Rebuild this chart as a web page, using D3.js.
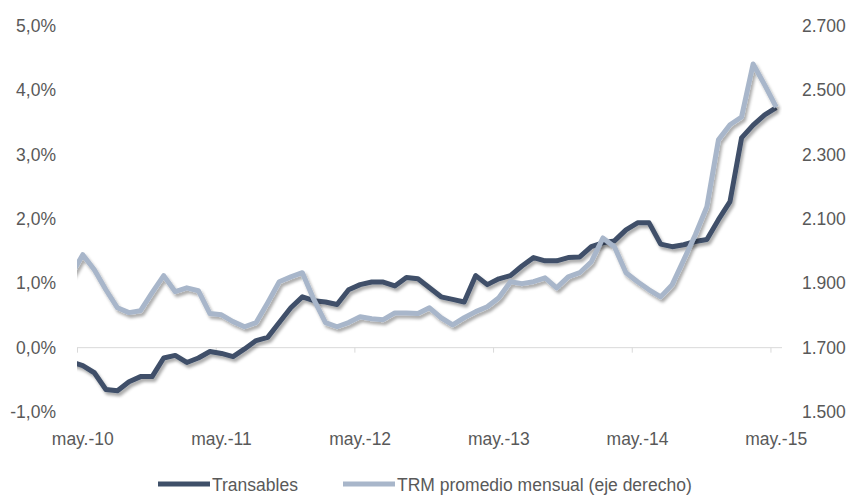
<!DOCTYPE html>
<html>
<head>
<meta charset="utf-8">
<script src="https://cdn.jsdelivr.net/npm/d3@7"></script>
<style>
  html, body { margin: 0; padding: 0; background: #fff; }
  svg text { font-family: "Liberation Sans", Arial, sans-serif; fill: #595959; }
</style>
</head>
<body>
<svg id="chart" width="849" height="495"></svg>
<script>
// Monthly series, abr.-10 through may.-15 (the first month sits just left of the plot and is clipped)
const mesesAbrev = ["ene.", "feb.", "mar.", "abr.", "may.", "jun.", "jul.", "ago.", "sep.", "oct.", "nov.", "dic."];
const meses = [];
for (let k = 0; k < 62; k++) {
  const m = (3 + k) % 12, a = 10 + Math.floor((3 + k) / 12);
  meses.push(mesesAbrev[m] + "-" + a);
}

// Transables, annual variation (%)
const transables = [
  -0.22,
  -0.28, -0.39, -0.65, -0.67, -0.53, -0.45, -0.45, -0.16, -0.12, -0.23, -0.16, -0.06,
  -0.09, -0.14, -0.02, 0.11, 0.16, 0.39, 0.62, 0.79, 0.73, 0.71, 0.67, 0.90,
  0.98, 1.02, 1.02, 0.96, 1.09, 1.07, 0.93, 0.79, 0.75, 0.71, 1.12, 0.98,
  1.07, 1.12, 1.27, 1.40, 1.35, 1.35, 1.40, 1.41, 1.57, 1.63, 1.66, 1.83,
  1.94, 1.94, 1.61, 1.57, 1.60, 1.65, 1.68, 1.99, 2.27, 3.26, 3.46, 3.62,
  3.73
];

// TRM, monthly average (pesos per dollar, right axis)
const trm = [
  1927,
  1989, 1942, 1880, 1824, 1809, 1815, 1871, 1924, 1874, 1886, 1877, 1806,
  1802, 1781, 1765, 1778, 1840, 1905, 1920, 1933, 1849, 1778, 1765, 1778,
  1796, 1790, 1787, 1808, 1808, 1806, 1824, 1793, 1771, 1793, 1812, 1827,
  1855, 1905, 1899, 1905, 1917, 1886, 1920, 1933, 1967, 2041, 2014, 1933,
  1905, 1880, 1858, 1896, 1973, 2051, 2138, 2346, 2393, 2417, 2582, 2517,
  2448
];

const ticksIzq = [-1, 0, 1, 2, 3, 4, 5];
const ticksDer = [1500, 1700, 1900, 2100, 2300, 2500, 2700];
const etiquetasX = ["may.-10", "may.-11", "may.-12", "may.-13", "may.-14", "may.-15"];

const colorTrans = "#3f5069";
const colorTRM = "#a8b6ca";

const svg = d3.select("#chart");
const L = 77, R = 782, T = 26, B = 412;

// One band per month from may.-10 (index 1) to may.-15 (index 61)
const xb = d3.scaleLinear().domain([1, 62]).range([L, R]);
const xc = i => xb(i + 0.5);           // centre of the month's band
const yL = d3.scaleLinear().domain([-1, 5]).range([B, T]);
const yR = d3.scaleLinear().domain([1500, 2700]).range([B, T]);

// Spanish number style: decimal comma, point for thousands, plain hyphen for negatives
const es = d3.formatLocale({ decimal: ",", thousands: ".", grouping: [3], currency: ["$", ""], minus: "-" });
const fmtPct = v => es.format(".1f")(v) + "%";
const fmtMil = es.format(",");

const defs = svg.append("defs");
const f = defs.append("filter").attr("id", "sombra")
  .attr("x", "-10%").attr("y", "-10%").attr("width", "120%").attr("height", "120%");
f.append("feDropShadow").attr("dx", 2).attr("dy", 3).attr("stdDeviation", 1.6)
  .attr("flood-color", "#000").attr("flood-opacity", 0.33);
defs.append("clipPath").attr("id", "area")
  .append("rect").attr("x", L).attr("y", 0).attr("width", R - L).attr("height", 495);

// zero line with month ticks
svg.append("line").attr("x1", L).attr("x2", R)
  .attr("y1", yL(0)).attr("y2", yL(0))
  .attr("stroke", "#d9d9d9").attr("stroke-width", 1);

const xAxis = d3.axisBottom(xb)
  .tickValues(etiquetasX.map((d, k) => 1 + 12 * k))
  .tickSize(5).tickFormat("");
svg.append("g").attr("transform", `translate(0,${yL(0)})`).call(xAxis)
  .call(g => g.select(".domain").remove())
  .call(g => g.selectAll("line").attr("stroke", "#d9d9d9"));

// x labels centred on the month
svg.append("g").selectAll("text").data(etiquetasX).join("text")
  .attr("x", (d, k) => xc(1 + 12 * k))
  .attr("y", 445)
  .attr("text-anchor", "middle")
  .style("font-size", "17.5px")
  .text(d => d);

// left axis
svg.append("g").attr("transform", `translate(${L},0)`)
  .call(d3.axisLeft(yL).tickValues(ticksIzq).tickSize(0).tickPadding(21).tickFormat(fmtPct))
  .call(g => g.select(".domain").remove())
  .call(g => g.selectAll("text").style("font-size", "17.5px")
    .style("font-family", '"Liberation Sans", Arial, sans-serif').attr("fill", "#595959"));

// right axis
svg.append("g").attr("transform", `translate(${R},0)`)
  .call(d3.axisRight(yR).tickValues(ticksDer).tickSize(0).tickPadding(20).tickFormat(fmtMil))
  .call(g => g.select(".domain").remove())
  .call(g => g.selectAll("text").style("font-size", "17.5px")
    .style("font-family", '"Liberation Sans", Arial, sans-serif').attr("fill", "#595959"));

// series
const idx = d3.range(transables.length);
const lineaTrans = d3.line().x(i => xc(i)).y(i => yL(transables[i]));
const lineaTRM = d3.line().x(i => xc(i)).y(i => yR(trm[i]));

const series = svg.append("g").attr("clip-path", "url(#area)");
series.append("path").datum(idx).attr("d", lineaTrans)
  .attr("fill", "none").attr("stroke", colorTrans).attr("stroke-width", 5)
  .attr("stroke-linejoin", "round").attr("filter", "url(#sombra)");
series.append("path").datum(idx).attr("d", lineaTRM)
  .attr("fill", "none").attr("stroke", colorTRM).attr("stroke-width", 5)
  .attr("stroke-linejoin", "round").attr("filter", "url(#sombra)");

// legend
const leyenda = [
  { nombre: "Transables", color: colorTrans, x: 158 },
  { nombre: "TRM promedio mensual (eje derecho)", color: colorTRM, x: 343 }
];
const lg = svg.append("g").selectAll("g").data(leyenda).join("g")
  .attr("transform", d => `translate(${d.x},484)`);
lg.append("line").attr("x1", 0).attr("x2", 52).attr("y1", 0).attr("y2", 0)
  .attr("stroke", d => d.color).attr("stroke-width", 5);
lg.append("text").attr("x", 54).attr("y", 6.5)
  .style("font-size", "17.5px").text(d => d.nombre);
</script>
</body>
</html>
